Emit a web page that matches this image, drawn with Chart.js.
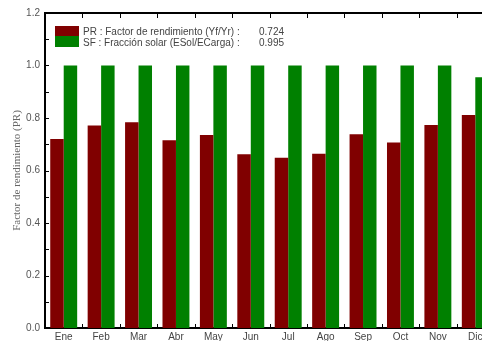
<!DOCTYPE html>
<html>
<head>
<meta charset="utf-8">
<script src="https://cdn.jsdelivr.net/npm/chart.js@4/dist/chart.umd.min.js"></script>
<style>
  html, body { margin: 0; padding: 0; background: #fff; overflow: hidden; width: 482px; height: 341px; }
  #wrap { position: absolute; left: 0; top: 0; width: 500px; height: 341px; }
</style>
</head>
<body>
<div id="wrap"><canvas id="c" width="500" height="341"></canvas></div>
<script>
// Meses
const months = ['Ene', 'Feb', 'Mar', 'Abr', 'May', 'Jun', 'Jul', 'Ago', 'Sep', 'Oct', 'Nov', 'Dic'];
// PR: factor de rendimiento mensual
const prValues = [0.720, 0.771, 0.784, 0.715, 0.735, 0.662, 0.649, 0.664, 0.738, 0.707, 0.773, 0.811];
// SF: fracción solar mensual
const sfValues = [1.000, 1.000, 1.000, 1.000, 1.000, 1.000, 1.000, 1.000, 1.000, 1.000, 1.000, 0.955];
// Etiquetas de la leyenda con los valores anuales
const legendLabels = ['PR : Factor de rendimiento (Yf/Yr) :', 'SF : Fracción solar (ESol/ECarga) :'];
const legendValues = ['0.724', '0.995'];
const yTicks = [0, 0.2, 0.4, 0.6, 0.8, 1.0, 1.2];
const yMinorTicks = [0.1, 0.3, 0.5, 0.7, 0.9, 1.1];

const RED = '#800000';
const GREEN = '#008000';

// Marco del gráfico: línea superior, marcas interiores y leyenda
const framePlugin = {
  id: 'frame',
  afterDatasetsDraw(chart) {
    const ctx = chart.ctx;
    const area = chart.chartArea;
    const x = chart.scales.x;
    const y = chart.scales.y;
    ctx.save();
    ctx.strokeStyle = '#000';
    // línea superior
    ctx.lineWidth = 2;
    ctx.beginPath();
    ctx.moveTo(area.left - 1, area.top);
    ctx.lineTo(area.right, area.top);
    ctx.stroke();
    // marcas en los límites entre meses
    ctx.lineWidth = 1;
    ctx.beginPath();
    for (let i = 1; i < months.length; i++) {
      const px = Math.round((x.getPixelForValue(i - 1) + x.getPixelForValue(i)) / 2) + 0.5;
      ctx.moveTo(px, area.top);
      ctx.lineTo(px, area.top + 5);
      ctx.moveTo(px, area.bottom);
      ctx.lineTo(px, area.bottom - 4);
    }
    // marcas del eje Y hacia dentro
    yTicks.concat(yMinorTicks).forEach(v => {
      const py = Math.round(y.getPixelForValue(v)) + 0.5;
      ctx.moveTo(area.left, py);
      ctx.lineTo(area.left + 4, py);
    });
    ctx.stroke();

    // leyenda
    const lx = area.left + 10;
    ctx.fillStyle = RED;
    ctx.fillRect(lx, 26, 24, 10);
    ctx.fillStyle = GREEN;
    ctx.fillRect(lx, 36, 24, 11);
    ctx.font = '10px "Liberation Sans", Arial, sans-serif';
    ctx.fillStyle = '#444';
    ctx.textBaseline = 'middle';
    ctx.textAlign = 'left';
    ctx.fillText(legendLabels[0], lx + 28, 32);
    ctx.fillText(legendLabels[1], lx + 28, 43);
    ctx.fillText(legendValues[0], 259, 32);
    ctx.fillText(legendValues[1], 259, 43);
    ctx.restore();
  }
};

new Chart(document.getElementById('c'), {
  type: 'bar',
  data: {
    labels: months,
    datasets: [
      { label: 'PR', data: prValues, backgroundColor: RED, borderWidth: 0 },
      { label: 'SF', data: sfValues, backgroundColor: GREEN, borderWidth: 0 }
    ]
  },
  options: {
    responsive: false,
    animation: false,
    devicePixelRatio: 1,
    layout: { padding: { top: 13, right: 6, left: 0, bottom: 0 } },
    plugins: { legend: { display: false }, tooltip: { enabled: false } },
    datasets: { bar: { categoryPercentage: 0.72, barPercentage: 1.0 } },
    scales: {
      x: {
        grid: { display: false, drawTicks: false },
        border: { display: true, color: '#000', width: 2 },
        ticks: {
          color: '#444',
          font: { family: '"Liberation Sans", Arial, sans-serif', size: 10 },
          padding: 3,
          maxRotation: 0,
          autoSkip: false
        },
        afterFit(scale) { scale.height = 13; }
      },
      y: {
        min: 0,
        max: 1.2,
        afterBuildTicks(scale) { scale.ticks = yTicks.map(v => ({ value: v })); },
        grid: { display: false, drawTicks: false },
        border: { display: true, color: '#000', width: 2 },
        ticks: {
          color: '#555',
          font: { family: '"Liberation Sans", Arial, sans-serif', size: 10 },
          padding: 5,
          callback: v => Number(v).toFixed(1)
        },
        title: {
          display: true,
          text: 'Factor de rendimiento (PR)',
          color: '#666',
          font: { family: '"Liberation Serif", "Times New Roman", serif', size: 11 },
          padding: { top: 11, bottom: 0 }
        },
        afterFit(scale) { scale.width = 45; }
      }
    }
  },
  plugins: [framePlugin]
});
</script>
</body>
</html>
